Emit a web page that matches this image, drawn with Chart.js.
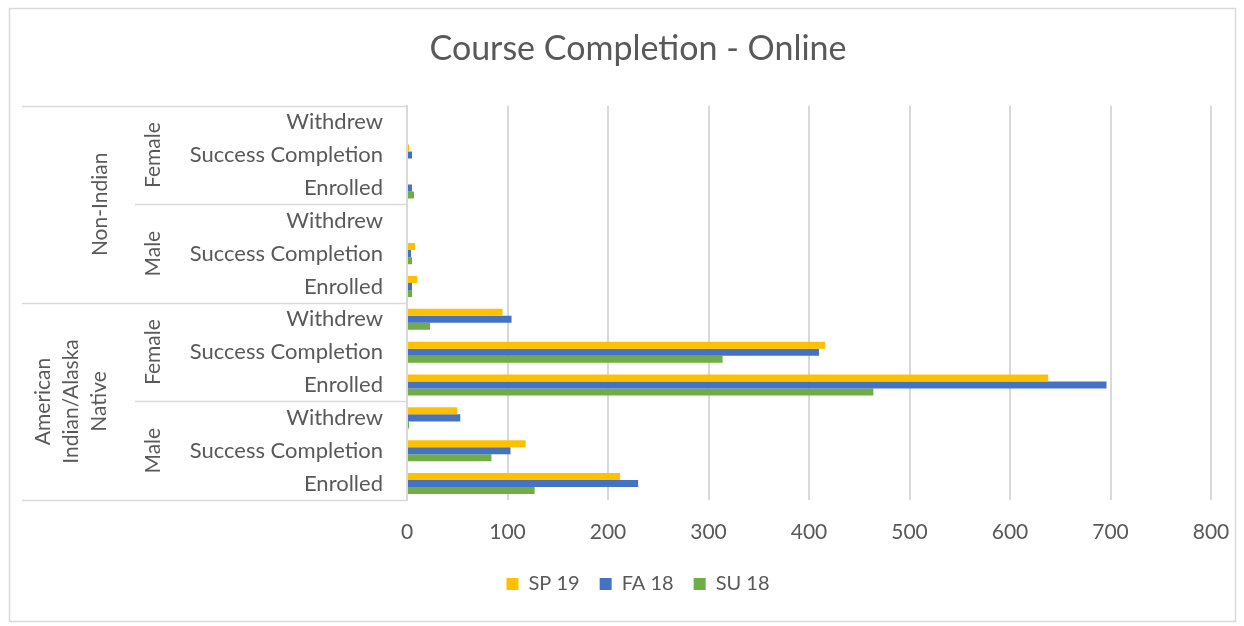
<!DOCTYPE html>
<html>
<head>
<meta charset="utf-8">
<script src="https://cdn.jsdelivr.net/npm/chart.js@4"></script>
<style>
  html, body { margin: 0; padding: 0; background: #ffffff; }
  #wrap { position: relative; width: 1244px; height: 626px; }
</style>
</head>
<body>
<div id="wrap"><canvas id="c" width="1244" height="626"></canvas></div>
<script>
// ---- data (top-to-bottom order as displayed) ----
const measures = ['Withdrew', 'Success Completion', 'Enrolled',
                  'Withdrew', 'Success Completion', 'Enrolled',
                  'Withdrew', 'Success Completion', 'Enrolled',
                  'Withdrew', 'Success Completion', 'Enrolled'];
const genderGroups = ['Female', 'Male', 'Female', 'Male'];
const ethnicityGroups = ['Non-Indian', ['American', 'Indian/Alaska', 'Native']];
const seriesNames = ['SP 19', 'FA 18', 'SU 18'];
const sp19 = [0, 2, 1,   0, 8, 10,  95, 416, 638,  50, 118, 212];
const fa18 = [0, 5, 5,   0, 4, 5,   104, 410, 696, 53, 103, 230];
const su18 = [0, 1, 7,   0, 5, 5,   23, 314, 464,  2, 84, 127];
const xTicks = [0, 100, 200, 300, 400, 500, 600, 700, 800];

const seriesColors = ['#FFC000', '#4472C4', '#70AD47'];
const FONT = 'Lato, "Open Sans", sans-serif';
const TEXT = '#595959';
const LINE = '#d9d9d9';

const decor = {
  id: 'decor',
  beforeDraw(chart) {
    const ctx = chart.ctx;
    ctx.save();
    ctx.strokeStyle = LINE;
    ctx.lineWidth = 1.5;
    ctx.strokeRect(9.5, 8.5, 1226, 613);
    ctx.restore();
  },
  afterDraw(chart) {
    const ctx = chart.ctx;
    const area = chart.chartArea;
    const n = measures.length;
    const step = (area.bottom - area.top) / n;
    const edge = i => area.top + step * i;
    ctx.save();
    // separator lines
    ctx.strokeStyle = LINE;
    ctx.lineWidth = 1.5;
    const lines = [[22, 0], [135, 3], [22, 6], [135, 9], [22, 12]];
    lines.forEach(([x0, i]) => {
      const yy = Math.round(edge(i)) + 0.5;
      ctx.beginPath();
      ctx.moveTo(x0, yy);
      ctx.lineTo(area.left, yy);
      ctx.stroke();
    });
    // group labels (rotated)
    ctx.fillStyle = TEXT;
    ctx.font = '21px ' + FONT;
    ctx.textAlign = 'center';
    ctx.textBaseline = 'middle';
    const rot = (txt, x, yc) => {
      ctx.save();
      ctx.translate(x, yc);
      ctx.rotate(-Math.PI / 2);
      ctx.fillText(txt, 0, 0);
      ctx.restore();
    };
    genderGroups.forEach((g, k) => {
      rot(g, 153, (edge(k * 3) + edge(k * 3 + 3)) / 2);
    });
    rot(ethnicityGroups[0], 100, (edge(0) + edge(6)) / 2);
    const ai = ethnicityGroups[1];
    const xs = [43, 71, 99];
    ai.forEach((t, k) => rot(t, xs[k], (edge(6) + edge(12)) / 2));
    ctx.restore();
  }
};

new Chart(document.getElementById('c'), {
  type: 'bar',
  data: {
    labels: measures,
    datasets: [
      { label: seriesNames[0], data: sp19, backgroundColor: seriesColors[0] },
      { label: seriesNames[1], data: fa18, backgroundColor: seriesColors[1] },
      { label: seriesNames[2], data: su18, backgroundColor: seriesColors[2] }
    ]
  },
  options: {
    indexAxis: 'y',
    responsive: false,
    animation: false,
    devicePixelRatio: 1,
    categoryPercentage: 0.64,
    barPercentage: 1.0,
    layout: { padding: { left: 65, right: 33, top: 0, bottom: 22 } },
    plugins: {
      title: {
        display: true,
        text: 'Course Completion - Online',
        color: TEXT,
        font: { family: FONT, size: 34, weight: 'normal' },
        padding: { top: 29, bottom: 36 }
      },
      legend: {
        display: true,
        position: 'bottom',
        labels: {
          color: TEXT,
          font: { family: FONT, size: 20 },
          boxWidth: 12,
          boxHeight: 12,
          padding: 20
        }
      },
      tooltip: { enabled: false }
    },
    scales: {
      x: {
        min: 0,
        max: 800,
        afterBuildTicks(scale) { scale.ticks = xTicks.map(v => ({ value: v })); },
        afterFit(scale) { scale.height = 54; scale.paddingRight = 0; scale.paddingLeft = 0; },
        grid: { color: LINE, lineWidth: 2, drawTicks: false },
        border: { display: false },
        ticks: { color: TEXT, font: { family: FONT, size: 21 }, padding: 20 }
      },
      y: {
        afterFit(scale) { scale.width = 407 - 65; },
        grid: { display: false, drawTicks: false },
        border: { display: true, color: LINE, width: 2 },
        ticks: { color: TEXT, font: { family: FONT, size: 22 }, padding: 24, autoSkip: false }
      }
    }
  },
  plugins: [decor]
});
</script>
</body>
</html>
